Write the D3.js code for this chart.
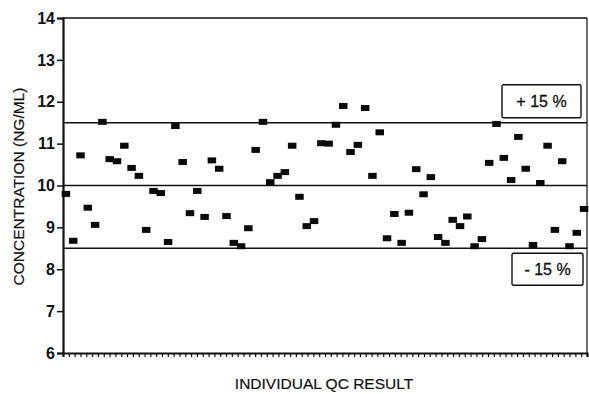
<!DOCTYPE html>
<html>
<head>
<meta charset="utf-8">
<script src="https://cdn.jsdelivr.net/npm/d3@7"></script>
<style>
  body { margin: 0; background: #fff; }
  text { font-family: "Liberation Sans", Arial, sans-serif; fill: #111; }
</style>
</head>
<body>
<script>
// QC results, in run order
const qcValues = [
    9.80, 8.68, 10.72, 9.47, 9.06, 11.52, 10.63, 10.58, 10.95, 10.42,
    10.23, 8.94, 9.87, 9.82, 8.65, 11.42, 10.56, 9.34, 9.87, 9.25,
    10.60, 10.40, 9.27, 8.63, 8.55, 8.98, 10.85, 11.52, 10.08, 10.23,
    10.32, 10.95, 9.73, 9.03, 9.15, 11.01, 11.00, 11.45, 11.90, 10.80,
    10.97, 11.85, 10.23, 11.27, 8.74, 9.32, 8.63, 9.35, 10.39, 9.79,
    10.20, 8.77, 8.63, 9.18, 9.03, 9.26, 8.55, 8.72, 10.54, 11.47,
    10.66, 10.13, 11.16, 10.40, 8.58, 10.06, 10.95, 8.94, 10.58, 8.55,
    8.87, 9.44
];
const yTicks = [6, 7, 8, 9, 10, 11, 12, 13, 14];
const limitLines = [8.5, 10, 11.5];
const limitLabels = [
    { text: "+ 15 %", value: 11.5 },
    { text: "- 15 %", value: 8.5 }
];
const xTickCount = 90;

const width = 589, height = 394;
const margin = { top: 18, right: 2, bottom: 41, left: 63 };

const svg = d3.select("body").append("svg")
    .attr("width", width)
    .attr("height", height);

const y = d3.scaleLinear()
    .domain([6, 14])
    .range([height - margin.bottom, margin.top]);

const x = d3.scaleLinear()
    .domain([-0.4, qcValues.length - 0.6])
    .range([margin.left, width - margin.right]);

// minor tick scale for the bottom axis
const xt = d3.scaleLinear()
    .domain([0, xTickCount])
    .range([margin.left, width - margin.right]);

// frame: top and right
svg.append("line")
    .attr("x1", margin.left).attr("x2", width - margin.right)
    .attr("y1", y(14)).attr("y2", y(14))
    .attr("stroke", "#111").attr("stroke-width", 1.5);
svg.append("line")
    .attr("x1", width - margin.right).attr("x2", width - margin.right)
    .attr("y1", y(14)).attr("y2", y(6))
    .attr("stroke", "#111").attr("stroke-width", 1.2);

// limit lines
svg.selectAll(".limit")
    .data(limitLines)
    .enter()
    .append("line")
    .attr("class", "limit")
    .attr("x1", margin.left).attr("x2", width - margin.right)
    .attr("y1", d => y(d)).attr("y2", d => y(d))
    .attr("stroke", "#111")
    .attr("stroke-width", 1.5);

// y axis
const yAxis = svg.append("g")
    .attr("transform", "translate(" + margin.left + ",0)")
    .call(d3.axisLeft(y).tickValues(yTicks).tickSize(6).tickPadding(2).tickFormat(d3.format("d")));
yAxis.select(".domain").attr("stroke", "#111").attr("stroke-width", 2.2);
yAxis.selectAll(".tick line").attr("stroke", "#111").attr("stroke-width", 1.5);
yAxis.selectAll(".tick text")
    .style("font-family", "'Liberation Sans', Arial, sans-serif")
    .style("font-size", "16px")
    .style("font-weight", "bold")
    .attr("fill", "#111");

// x axis with tiny ticks, no labels
const xAxis = svg.append("g")
    .attr("transform", "translate(0," + y(6) + ")")
    .call(d3.axisBottom(xt).tickValues(d3.range(1, xTickCount + 1)).tickSize(4).tickFormat(""));
xAxis.select(".domain").attr("stroke", "#111").attr("stroke-width", 2.2);
xAxis.selectAll(".tick line").attr("stroke", "#111").attr("stroke-width", 1.2);

// data markers
const mw = 8.5, mh = 6;
svg.selectAll(".pt")
    .data(qcValues)
    .enter()
    .append("rect")
    .attr("class", "pt")
    .attr("x", (d, i) => x(i) - mw / 2)
    .attr("y", d => y(d) - mh / 2)
    .attr("width", mw)
    .attr("height", mh)
    .attr("fill", "#0a0a0a");

// boxed limit labels
const boxes = svg.selectAll(".lab")
    .data(limitLabels)
    .enter()
    .append("g")
    .attr("class", "lab")
    .attr("transform", d => d.value > 10
        ? "translate(502," + (y(d.value) - 38) + ")"
        : "translate(512," + (y(d.value) + 5) + ")");
boxes.append("rect")
    .attr("width", d => d.value > 10 ? 79 : 71)
    .attr("height", d => d.value > 10 ? 33 : 32)
    .attr("rx", 1.5)
    .attr("fill", "#fff")
    .attr("stroke", "#111")
    .attr("stroke-width", 1.4);
boxes.append("text")
    .attr("x", d => d.value > 10 ? 39.5 : 35.5)
    .attr("y", 22)
    .attr("text-anchor", "middle")
    .style("font-size", "16px")
    .style("stroke", "#111")
    .style("stroke-width", 0.3)
    .text(d => d.text);

// axis titles
svg.append("text")
    .attr("transform", "translate(24," + ((y(6) + y(14)) / 2 + 1) + ") rotate(-90)")
    .attr("text-anchor", "middle")
    .style("font-size", "15.5px")
    .style("stroke", "#111")
    .style("stroke-width", 0.2)
    .text("CONCENTRATION (NG/ML)");

svg.append("text")
    .attr("x", 324)
    .attr("y", 389)
    .attr("text-anchor", "middle")
    .style("font-size", "15.5px")
    .style("stroke", "#111")
    .style("stroke-width", 0.2)
    .text("INDIVIDUAL QC RESULT");
</script>
</body>
</html>
